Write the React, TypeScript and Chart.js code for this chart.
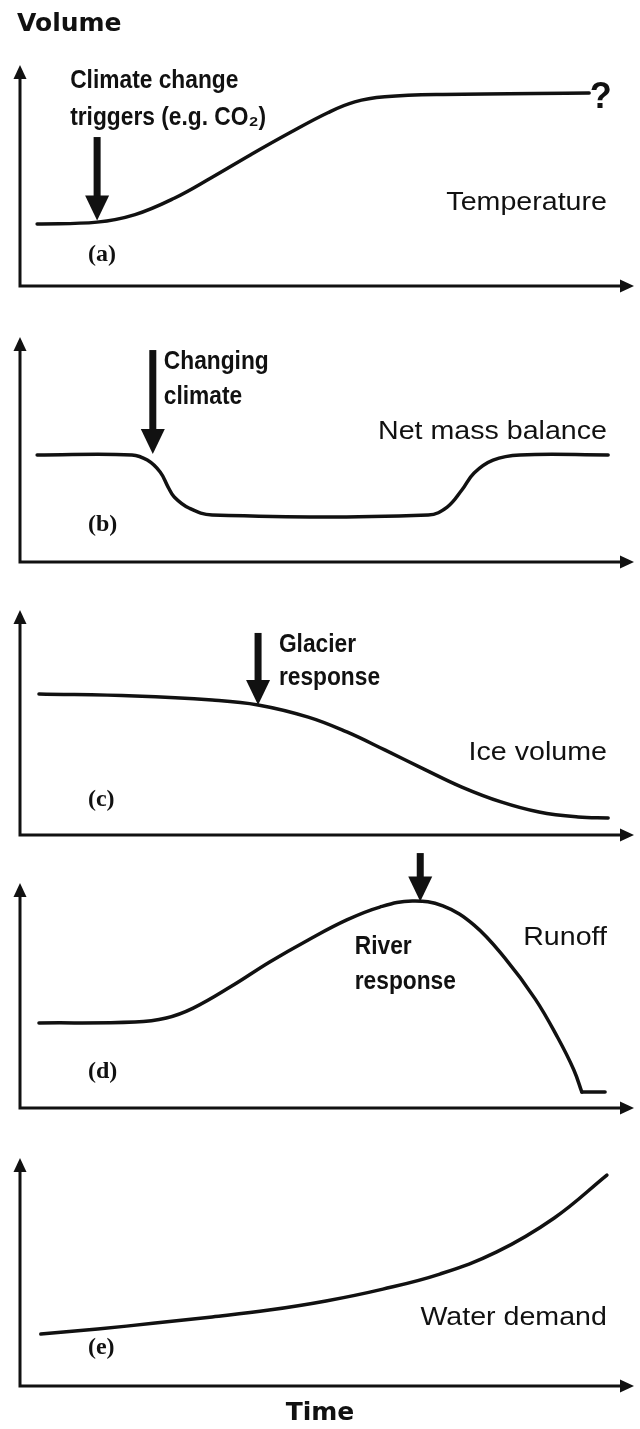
import React, { useEffect, useRef } from "react";
import { Chart, registerables } from "chart.js";

Chart.register(...registerables);

const INK = "#111111";

// Panel (a) Temperature
const tempTime = [2.8, 12.6, 18.8, 25.2, 31.4, 37.7, 44.0, 50.3, 54.7, 59.6, 69.1, 93.0];
const temperature = [28.1, 28.9, 32.3, 39.7, 49.2, 59.4, 69.2, 78.4, 83.3, 85.6, 86.7, 87.3];

// Panel (b) Net mass balance
const massTime = [2.8, 18.3, 20.8, 22.9, 24.2, 25.2, 27.6, 31.4, 66.7, 69.8, 72.2, 74.2, 77.3, 81.7, 96.1];
const massBalance = [47.6, 47.6, 45.3, 40.0, 33.3, 28.9, 24.0, 20.9, 20.9, 24.4, 32.0, 39.6, 45.3, 47.6, 47.6];

// Panel (c) Ice volume
const iceTime = [3.1, 18.8, 31.4, 38.9, 47.1, 53.4, 59.6, 66.0, 72.2, 78.6, 84.8, 91.2, 96.1];
const iceVolume = [62.7, 61.8, 60.0, 57.8, 52.4, 45.8, 37.8, 29.3, 21.3, 14.7, 10.2, 8.0, 7.6];

// Panel (d) Runoff
const runoffTime = [3.1, 18.8, 23.9, 28.3, 34.6, 40.8, 47.1, 53.4, 58.8, 64.1, 69.1, 74.2, 79.2, 84.2, 87.9, 90.5, 91.8];
const runoff = [37.8, 38.2, 40.0, 44.4, 54.2, 64.9, 74.7, 83.6, 89.3, 92.0, 89.8, 81.3, 66.7, 48.4, 31.1, 16.9, 7.1];
const runoffTailTime = [91.8, 95.6];
const runoffTail = [7.1, 7.1];

// Panel (e) Water demand
const demandTime = [3.4, 12.7, 22.1, 31.4, 40.7, 50.0, 59.3, 68.6, 77.9, 87.3, 95.9];
const waterDemand = [22.8, 25.0, 27.6, 30.3, 33.3, 37.3, 42.5, 49.1, 58.8, 73.7, 92.5];

const yAxisTitle = "Volume";
const xAxisTitle = "Time";

type Note = { text: string; x: number; y: number; kind: "bold" | "label" | "letter" | "question"; align?: "left" | "right" };
type Arrow = { x: number; yFrom: number; yTo: number };
type PanelCfg = {
  top: number;
  height: number;
  padTop: number;
  padBottom: number;
  series: { x: number[]; y: number[] }[];
  arrow?: Arrow;
  notes: Note[];
  headTitle?: string;
  footTitle?: string;
};

const panels: PanelCfg[] = [
  {
    top: 0, height: 300, padTop: 65, padBottom: 14,
    series: [{ x: tempTime, y: temperature }],
    arrow: { x: 12.6, yFrom: 67.4, yTo: 29.6 },
    notes: [
      { text: "Climate change", x: 8.2, y: 92.5, kind: "bold" },
      { text: "triggers (e.g. CO\u2082)", x: 8.2, y: 76.0, kind: "bold" },
      { text: "?", x: 93.1, y: 85, kind: "question" },
      { text: "Temperature", x: 95.9, y: 37.6, kind: "label", align: "right" },
      { text: "(a)", x: 11.1, y: 14.0, kind: "letter" },
    ],
    headTitle: yAxisTitle,
  },
  {
    top: 300, height: 275, padTop: 37, padBottom: 13,
    series: [{ x: massTime, y: massBalance }],
    arrow: { x: 21.7, yFrom: 94.2, yTo: 48.0 },
    notes: [
      { text: "Changing", x: 23.5, y: 88.9, kind: "bold" },
      { text: "climate", x: 23.5, y: 73.3, kind: "bold" },
      { text: "Net mass balance", x: 95.9, y: 57.8, kind: "label", align: "right" },
      { text: "(b)", x: 11.1, y: 16.4, kind: "letter" },
    ],
  },
  {
    top: 575, height: 273, padTop: 35, padBottom: 13,
    series: [{ x: iceTime, y: iceVolume }],
    arrow: { x: 38.9, yFrom: 89.8, yTo: 57.8 },
    notes: [
      { text: "Glacier", x: 42.3, y: 84.4, kind: "bold" },
      { text: "response", x: 42.3, y: 69.8, kind: "bold" },
      { text: "Ice volume", x: 95.9, y: 36.4, kind: "label", align: "right" },
      { text: "(c)", x: 11.1, y: 15.6, kind: "letter" },
    ],
  },
  {
    top: 848, height: 274, padTop: 35, padBottom: 14,
    series: [{ x: runoffTime, y: runoff }, { x: runoffTailTime, y: runoffTail }],
    arrow: { x: 65.4, yFrom: 113.3, yTo: 91.8 },
    notes: [
      { text: "River", x: 54.7, y: 71.6, kind: "bold" },
      { text: "response", x: 54.7, y: 56.0, kind: "bold" },
      { text: "Runoff", x: 95.9, y: 75.6, kind: "label", align: "right" },
      { text: "(d)", x: 11.1, y: 16.0, kind: "letter" },
    ],
  },
  {
    top: 1122, height: 307, padTop: 36, padBottom: 43,
    series: [{ x: demandTime, y: waterDemand }],
    notes: [
      { text: "Water demand", x: 95.9, y: 29.8, kind: "label", align: "right" },
      { text: "(e)", x: 11.1, y: 16.7, kind: "letter" },
    ],
    footTitle: xAxisTitle,
  },
];

const FONTS: Record<string, { font: string; stretch: number }> = {
  bold: { font: "bold 25px 'Liberation Sans', Arial, sans-serif", stretch: 0.91 },
  label: { font: "26px 'Liberation Sans', Arial, sans-serif", stretch: 1.1 },
  letter: { font: "bold 24px 'Liberation Serif', 'Times New Roman', serif", stretch: 1 },
  question: { font: "bold 36px 'Liberation Sans', Arial, sans-serif", stretch: 1 },
  title: { font: "bold 25px 'DejaVu Sans', sans-serif", stretch: 1 },
};

function drawText(ctx: CanvasRenderingContext2D, kind: string, text: string, x: number, y: number, align: CanvasTextAlign) {
  const f = FONTS[kind];
  ctx.save();
  ctx.font = f.font;
  ctx.textAlign = align;
  ctx.textBaseline = "middle";
  ctx.translate(x, y);
  ctx.scale(f.stretch, 1);
  ctx.fillText(text, 0, 0);
  ctx.restore();
}

function PanelChart({ cfg }: { cfg: PanelCfg }) {
  const ref = useRef<HTMLCanvasElement>(null);
  useEffect(() => {
    const canvas = ref.current!;
    const sketch = {
      id: "sketch",
      afterDraw(chart: any) {
        const { ctx, chartArea: ca, scales } = chart;
        const xs = scales.x;
        const ys = scales.y;
        ctx.save();
        ctx.strokeStyle = INK;
        ctx.fillStyle = INK;
        ctx.lineWidth = 3;
        ctx.lineCap = "butt";
        // axes
        ctx.beginPath();
        ctx.moveTo(ca.left, ca.top + 10);
        ctx.lineTo(ca.left, ca.bottom);
        ctx.lineTo(ca.right - 6, ca.bottom);
        ctx.stroke();
        ctx.beginPath();
        ctx.moveTo(ca.left, ca.top);
        ctx.lineTo(ca.left - 6.5, ca.top + 14);
        ctx.lineTo(ca.left + 6.5, ca.top + 14);
        ctx.closePath();
        ctx.fill();
        ctx.beginPath();
        ctx.moveTo(ca.right + 2, ca.bottom);
        ctx.lineTo(ca.right - 12, ca.bottom - 6.5);
        ctx.lineTo(ca.right - 12, ca.bottom + 6.5);
        ctx.closePath();
        ctx.fill();

        // annotation arrow
        if (cfg.arrow) {
          const ax = xs.getPixelForValue(cfg.arrow.x);
          const y0 = ys.getPixelForValue(cfg.arrow.yFrom);
          const y1 = ys.getPixelForValue(cfg.arrow.yTo);
          const headLen = 25;
          const headHalf = 12;
          ctx.fillRect(ax - 3.5, y0, 7, y1 - y0 - headLen + 2);
          ctx.beginPath();
          ctx.moveTo(ax, y1);
          ctx.lineTo(ax - headHalf, y1 - headLen);
          ctx.lineTo(ax + headHalf, y1 - headLen);
          ctx.closePath();
          ctx.fill();
        }

        for (const n of cfg.notes) {
          drawText(ctx, n.kind, n.text, xs.getPixelForValue(n.x), ys.getPixelForValue(n.y), n.align === "right" ? "right" : "left");
        }
        if (cfg.headTitle) {
          drawText(ctx, "title", cfg.headTitle, ca.left - 3, ca.top - 41, "left");
        }
        if (cfg.footTitle) {
          drawText(ctx, "title", cfg.footTitle, 320, ca.bottom + 27, "center");
        }
        ctx.restore();
      },
    };

    const chart = new Chart(canvas, {
      type: "line",
      data: {
        datasets: cfg.series.map((s) => ({
          data: s.x.map((x, i) => ({ x, y: s.y[i] })),
          borderColor: INK,
          borderWidth: 3.5,
          pointRadius: 0,
          fill: false,
          tension: 0.4,
          borderCapStyle: "round" as const,
          borderJoinStyle: "round" as const,
        })),
      },
      options: {
        animation: false,
        responsive: false,
        events: [],
        layout: { padding: { left: 20, right: 8, top: cfg.padTop, bottom: cfg.padBottom } },
        plugins: { legend: { display: false }, tooltip: { enabled: false }, title: { display: false } },
        scales: {
          x: { type: "linear", min: 0, max: 100, display: false },
          y: { type: "linear", min: 0, max: 100, display: false },
        },
      },
      plugins: [sketch],
    });
    return () => chart.destroy();
  }, [cfg]);

  return (
    <canvas
      ref={ref}
      width={640}
      height={cfg.height}
      style={{ position: "absolute", left: 0, top: cfg.top, width: 640, height: cfg.height }}
    />
  );
}

export default function App() {
  return (
    <div style={{ position: "absolute", left: 0, top: 0, width: 640, height: 1429, background: "#fff" }}>
      {panels.map((p, i) => (
        <PanelChart key={i} cfg={p} />
      ))}
    </div>
  );
}
